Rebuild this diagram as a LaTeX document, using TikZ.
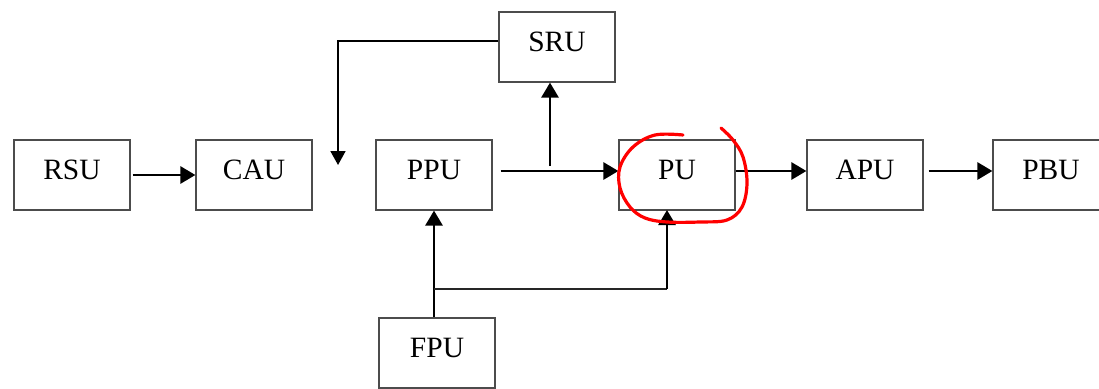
\documentclass[tikz,border=0pt]{standalone}
\usepackage{fontspec}
\setmainfont{Liberation Serif}
\usetikzlibrary{arrows.meta,calc}
\begin{document}
\begin{tikzpicture}[x=1pt,y=-1pt,
  unit/.style={draw=black!70,line width=1.2pt,minimum width=116pt,minimum height=70pt,inner sep=0pt,
    text height=20pt,text depth=12pt,font=\fontsize{29.5}{34}\selectfont},
  arr/.style={line width=2.8pt,-{Triangle[length=15pt,width=17pt]}},
  thinarr/.style={line width=1.8pt,-{Triangle[length=14pt,width=15pt]}},
  thinline/.style={line width=1.6pt,draw=black!85},
  redmark/.style={draw=red,line width=3.2pt,line cap=round}]
\useasboundingbox (0,0) rectangle (1099,388);
\clip (0,0) rectangle (1099,388);
\node[unit] (RSU) at (72,175) {RSU};
\node[unit] (CAU) at (254,175) {CAU};
\node[unit] (PPU) at (434,175) {PPU};
\node[unit] (SRU) at (557,47) {SRU};
\node[unit] (PU) at (677,175) {PU};
\node[unit] (APU) at (865,175) {APU};
\node[unit] (PBU) at (1051,175) {PBU};
\node[unit] (FPU) at (437,353) {FPU};
% connectors
\draw[arr,shorten <=2pt] (RSU.east) -- (CAU.west);
\draw[arr,shorten <=8pt] ($(PPU.east)+(0,-4)$) -- ($(PU.west)+(0,-4)$);
\coordinate (br) at (550,166);
\draw[arr] (br) -- (br |- SRU.south);
\coordinate (fb) at (338,165);
\draw[thinarr] ($(SRU.west)+(0,-6)$) -| (fb);
\draw[arr] (PPU.south |- FPU.north) -- (PPU.south);
\coordinate (fj) at (434,289);
\coordinate (pin) at (667,210);
\draw[thinline] (fj) -- (pin |- fj);
\draw[arr] (pin |- fj) -- (pin);
\draw[arr] ($(PU.east)+(0,-4)$) -- ($(APU.west)+(0,-4)$);
\draw[arr,shorten <=5pt] ($(APU.east)+(0,-4)$) -- ($(PBU.west)+(0,-4)$);
% red freehand circle
\draw[redmark] plot[smooth,tension=0.6] coordinates {(683,135) (655,135) (633,147) (620,167) (620,188) (630,207) (645,218) (667,222) (700,222) (727,220) (742,207) (747,183) (743,157) (733,140) (721,128)};
\end{tikzpicture}
\end{document}
